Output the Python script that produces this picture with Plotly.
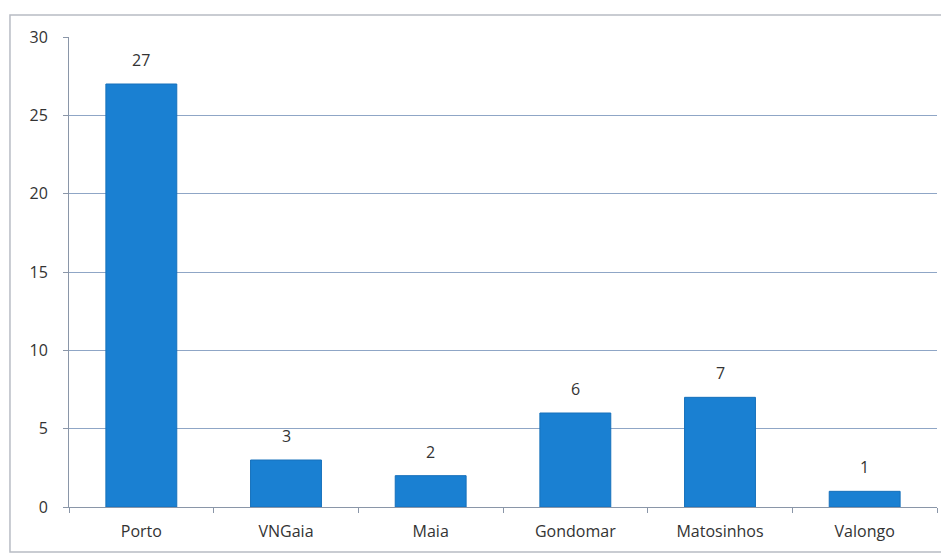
import plotly.graph_objects as go

categories = ["Porto", "VNGaia", "Maia", "Gondomar", "Matosinhos", "Valongo"]
values = [27, 3, 2, 6, 7, 1]
y_ticks = [0, 5, 10, 15, 20, 25, 30]

fig = go.Figure(go.Bar(
    x=categories, y=values,
    marker=dict(color="#1a80d2", line=dict(color="#1670bb", width=1)),
))

annotations = [
    dict(x=c, y=v, xref="x", yref="y", text=str(v), showarrow=False,
         yanchor="bottom", yshift=11,
         font=dict(size=16, color="#333333", family="Open Sans"))
    for c, v in zip(categories, values)
]

fig.update_layout(
    width=941, height=550,
    margin=dict(l=61, r=12, t=29, b=51),
    paper_bgcolor="white", plot_bgcolor="white",
    bargap=0.51,
    showlegend=False,
    font=dict(family="Open Sans", size=15, color="#333333"),
    xaxis=dict(
        showline=True, linecolor="#8a96a8", linewidth=1,
        ticks="outside", ticklen=5, tickcolor="#8a96a8",
        tickson="boundaries", showgrid=False,
        tickfont=dict(size=16, color="#333333"),
        ticklabelstandoff=10,
    ),
    yaxis=dict(
        range=[0, 30], tickvals=y_ticks,
        showline=True, linecolor="#8a96a8", linewidth=1,
        ticks="outside", ticklen=5, tickcolor="#8a96a8",
        gridcolor="#8fa6c6", gridwidth=1,
        zeroline=False,
        tickfont=dict(size=16, color="#333333"),
        ticklabelstandoff=12,
    ),
    annotations=annotations,
    shapes=[dict(
        type="rect", xref="paper", yref="paper",
        x0=-0.068, x1=1.009, y0=-0.096, y1=1.047,
        line=dict(color="#b8bcc4", width=1.5), fillcolor="rgba(0,0,0,0)",
        layer="below",
    )],
)

fig.write_html("out.html")
